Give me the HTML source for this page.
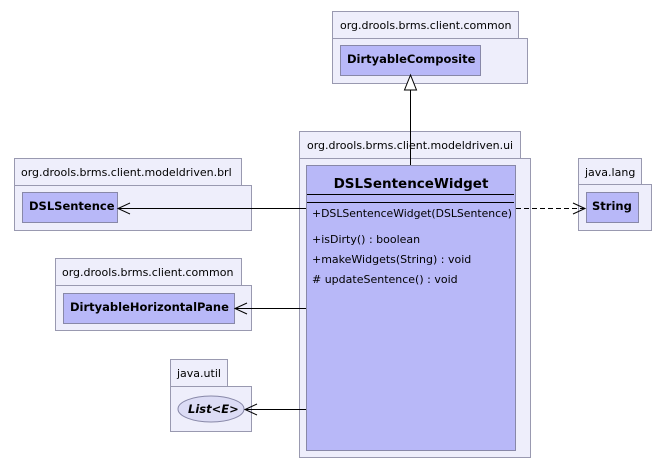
<!DOCTYPE html>
<html><head><meta charset="utf-8"><style>
body{margin:0;background:#fff;width:666px;height:469px;overflow:hidden}
</style></head><body>
<svg width="666" height="469" xmlns="http://www.w3.org/2000/svg" font-family="'DejaVu Sans','Liberation Sans',sans-serif" font-size="11">
<g fill="#eeeefb" stroke="#9999b0" stroke-width="1">
<rect x="332.5" y="11.5" width="186" height="27"/><rect x="332.5" y="38.5" width="195" height="45"/>
<rect x="299.5" y="131.5" width="221" height="27"/><rect x="299.5" y="158.5" width="231" height="299"/>
<rect x="14.5" y="158.5" width="227" height="27"/><rect x="14.5" y="185.5" width="237" height="45"/>
<rect x="55.5" y="258.5" width="186" height="27"/><rect x="55.5" y="285.5" width="196" height="45"/>
<rect x="170.5" y="359.5" width="57" height="27"/><rect x="170.5" y="386.5" width="81" height="45"/>
<rect x="578.5" y="158.5" width="63" height="26"/><rect x="578.5" y="184.5" width="73" height="46"/>
</g>
<g fill="#000" font-size="11">
<text x="340" y="29">org.drools.brms.client.common</text>
<text x="307" y="149">org.drools.brms.client.modeldriven.ui</text>
<text x="21" y="176">org.drools.brms.client.modeldriven.brl</text>
<text x="62" y="276">org.drools.brms.client.common</text>
<text x="177" y="377">java.util</text>
<text x="585" y="176">java.lang</text>
</g>
<g fill="#b8b8f8" stroke="#8888a8">
<rect x="340.5" y="45.5" width="140" height="30"/>
<rect x="22.5" y="192.5" width="95" height="30"/>
<rect x="63.5" y="293.5" width="171" height="30"/>
<rect x="586.5" y="192.5" width="52" height="30"/>
<rect x="306.5" y="165.5" width="209" height="285"/>
<ellipse cx="211" cy="409" rx="33" ry="13" fill="#dcdcf5"/>
</g>
<g font-weight="bold" font-size="11.5">
<text x="347" y="63">DirtyableComposite</text>
<text x="29" y="210">DSLSentence</text>
<text x="70" y="311">DirtyableHorizontalPane</text>
<text x="592" y="210">String</text>
<text x="188" y="413" font-style="italic">List&lt;E&gt;</text>
<text x="411" y="188" text-anchor="middle" font-size="13.5">DSLSentenceWidget</text>
</g>
<g stroke="#000"><line x1="307" y1="194.5" x2="514" y2="194.5"/><line x1="307" y1="202.5" x2="514" y2="202.5"/></g>
<g font-size="11">
<text x="312" y="217" textLength="200" lengthAdjust="spacingAndGlyphs">+DSLSentenceWidget(DSLSentence)</text>
<text x="312" y="243">+isDirty() : boolean</text>
<text x="312" y="263">+makeWidgets(String) : void</text>
<text x="312" y="283"># updateSentence() : void</text>
</g>
<g stroke="#000" fill="none">
<line x1="410.5" y1="90" x2="410.5" y2="165"/>
<polygon points="410.5,75 404.5,90 416.5,90" fill="#fff"/>
<line x1="306" y1="208.5" x2="118" y2="208.5"/><polyline points="130,203 118,208.5 130,214"/>
<line x1="516" y1="208.5" x2="585" y2="208.5" stroke-dasharray="5,3"/><polyline points="573,203 585,208.5 573,214"/>
<line x1="306" y1="308.5" x2="235" y2="308.5"/><polyline points="247,303 235,308.5 247,314"/>
<line x1="306" y1="409.5" x2="245" y2="409.5"/><polyline points="257,404 245,409.5 257,415"/>
</g>
</svg>
</body></html>
